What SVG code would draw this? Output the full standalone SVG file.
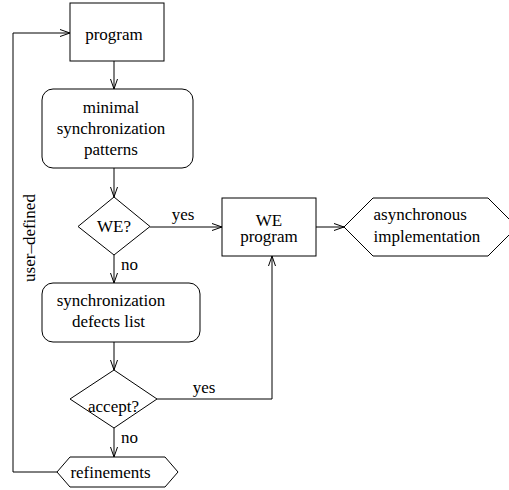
<svg xmlns="http://www.w3.org/2000/svg" width="509" height="490" viewBox="0 0 509 490">
<defs>
<marker id="arr" markerUnits="userSpaceOnUse" markerWidth="12" markerHeight="9" refX="11" refY="4" orient="auto">
<path d="M1,0.5 L11,4 L1,7.5" fill="none" stroke="#000" stroke-width="1"/>
</marker>
<style>
.s{fill:#fff;stroke:#000;stroke-width:1}
.c{fill:none;stroke:#000;stroke-width:1}
text{font-family:"Liberation Serif","Times New Roman",serif;font-size:17px;fill:#000}
.m{text-anchor:middle}
</style>
</defs>
<rect width="509" height="490" fill="#fff"/>
<g id="connectors">
<path class="c" d="M114,61 V89" marker-end="url(#arr)"/>
<path class="c" d="M114,168 V197" marker-end="url(#arr)"/>
<path class="c" d="M150,227 H222" marker-end="url(#arr)"/>
<text x="183" y="220" class="m">yes</text>
<path class="c" d="M316,227 H344" marker-end="url(#arr)"/>
<path class="c" d="M114,255 V283" marker-end="url(#arr)"/>
<text x="121" y="270">no</text>
<path class="c" d="M114,342 V370" marker-end="url(#arr)"/>
<path class="c" d="M157,399 H272 V256" marker-end="url(#arr)"/>
<text x="204" y="393" class="m">yes</text>
<path class="c" d="M114,428 V457" marker-end="url(#arr)"/>
<text x="121" y="443">no</text>
<path class="c" d="M57,472 H13 V33 H70" marker-end="url(#arr)"/>
<text transform="translate(34.5,238) rotate(-90)" class="m">user–defined</text>
</g>
<g id="program">
<rect class="s" x="70" y="3" width="94" height="58"/>
<text x="114" y="40" class="m">program</text>
</g>
<g id="minimal">
<rect class="s" x="42" y="89" width="151" height="79" rx="11"/>
<text x="111" y="113" class="m">minimal</text>
<text x="111" y="134" class="m">synchronization</text>
<text x="111" y="155" class="m">patterns</text>
</g>
<g id="we-decision">
<polygon class="s" points="114,197 150,226.5 114,255 78,226.5"/>
<text x="114" y="232" class="m">WE?</text>
</g>
<g id="we-program">
<rect class="s" x="222" y="198" width="94" height="58"/>
<text x="269" y="226" class="m">WE</text>
<text x="269" y="242" class="m">program</text>
</g>
<g id="async">
<polygon class="s" points="344,227 373,198 488,198 517,227 488,256 373,256"/>
<text x="373.5" y="220">asynchronous</text>
<text x="373.5" y="242">implementation</text>
</g>
<g id="defects">
<rect class="s" x="42" y="283" width="158" height="59" rx="11"/>
<text x="111" y="306" class="m">synchronization</text>
<text x="108.5" y="327" class="m">defects list</text>
</g>
<g id="accept">
<polygon class="s" points="114,370 157,399 114,428 70,399"/>
<text x="113.5" y="412" class="m">accept?</text>
</g>
<g id="refinements">
<polygon class="s" points="57,472 70,457 165,457 178,472 165,487 70,487"/>
<text x="110.5" y="478" class="m">refinements</text>
</g>
</svg>
